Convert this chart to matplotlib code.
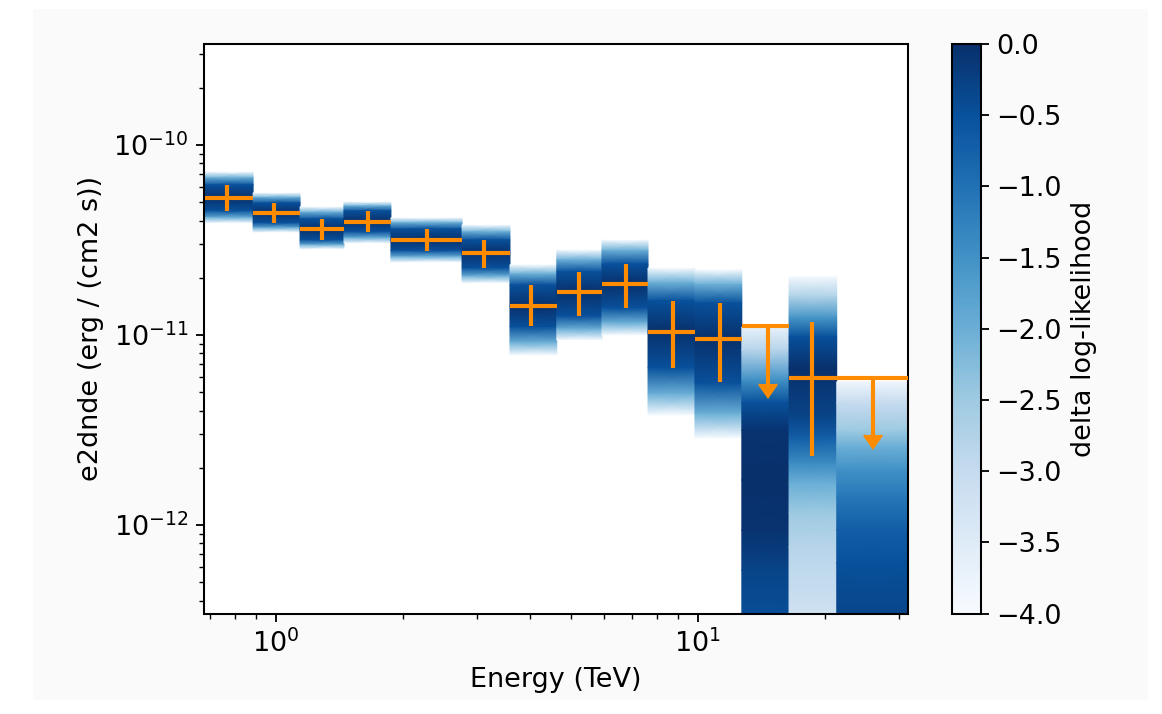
import numpy as np
import matplotlib
matplotlib.use("Agg")
import matplotlib.pyplot as plt
from matplotlib.patches import Rectangle

# energy bins (TeV)
e_min = [0.678, 0.884, 1.142, 1.451, 1.875, 2.764, 3.59, 4.634, 5.93, 7.625, 9.85, 12.72, 16.46, 21.35]
e_max = [0.884, 1.142, 1.451, 1.875, 2.764, 3.59, 4.634, 5.93, 7.625, 9.85, 12.72, 16.46, 21.35, 31.5]
e_ref = [0.765, 0.991, 1.285, 1.654, 2.28, 3.116, 4.027, 5.23, 6.75, 8.74, 11.29, 14.65, 18.66, 26.07]

# e2dnde, in units of 1e-11 erg / (cm2 s)
is_ul = [False] * 11 + [True, False, True]
e2dnde = [5.28, 4.39, 3.60, 3.95, 3.16, 2.71, 1.42, 1.68, 1.86, 1.041, 0.953, np.nan, 0.592, np.nan]
e2dnde_errn = [0.77, 0.50, 0.44, 0.45, 0.38, 0.46, 0.31, 0.42, 0.47, 0.37, 0.39, np.nan, 0.36, np.nan]
e2dnde_errp = [0.88, 0.56, 0.48, 0.55, 0.45, 0.45, 0.41, 0.47, 0.50, 0.47, 0.52, np.nan, 0.58, np.nan]
e2dnde_ul = [np.nan] * 11 + [1.11, np.nan, 0.592]

# likelihood profile per bin: e2dnde scan values (1e-11) and delta log-likelihood
profile_flux = [
    [7.21, 6.71, 6.16, 5.28, 4.51, 4.15, 3.89],
    [5.59, 5.29, 4.95, 4.39, 3.89, 3.66, 3.48],
    [4.72, 4.42, 4.08, 3.60, 3.16, 2.98, 2.84],
    [5.01, 4.77, 4.50, 3.95, 3.50, 3.24, 3.05],
    [4.13, 3.89, 3.61, 3.16, 2.78, 2.58, 2.42],
    [3.79, 3.49, 3.16, 2.71, 2.25, 2.04, 1.88],
    [2.34, 2.09, 1.83, 1.42, 1.106, 0.915, 0.785],
    [2.80, 2.48, 2.15, 1.68, 1.26, 1.075, 0.941],
    [3.16, 2.78, 2.36, 1.86, 1.39, 1.16, 1.00],
    [2.25, 1.88, 1.51, 1.041, 0.673, 0.491, 0.379],
    [2.20, 1.84, 1.47, 0.953, 0.559, 0.387, 0.287],
    [1.10, 0.834, 0.580, 0.439, 0.316, 0.1725, 0.0941, 0.058, 0.03],
    [2.02, 1.585, 1.244, 0.976, 0.670, 0.370, 0.290, 0.212, 0.166, 0.1156, 0.0766, 0.03],
    [0.566, 0.439, 0.316, 0.2574, 0.1948, 0.1404, 0.0941, 0.0631, 0.03],
]
profile_dll = [
    [-4.0, -2.0, -0.5, 0.0, -0.5, -2.0, -4.0],
    [-4.0, -2.0, -0.5, 0.0, -0.5, -2.0, -4.0],
    [-4.0, -2.0, -0.5, 0.0, -0.5, -2.0, -4.0],
    [-4.0, -2.0, -0.5, 0.0, -0.5, -2.0, -4.0],
    [-4.0, -2.0, -0.5, 0.0, -0.5, -2.0, -4.0],
    [-4.0, -2.0, -0.5, 0.0, -0.5, -2.0, -4.0],
    [-4.0, -2.0, -0.5, 0.0, -0.5, -2.0, -4.0],
    [-4.0, -2.0, -0.5, 0.0, -0.5, -2.0, -4.0],
    [-4.0, -2.0, -0.5, 0.0, -0.5, -2.0, -4.0],
    [-4.0, -2.0, -0.5, 0.0, -0.5, -2.0, -4.0],
    [-4.0, -2.0, -0.5, 0.0, -0.5, -2.0, -4.0],
    [-3.7, -2.8, -1.5, -0.5, -0.05, 0.0, -0.05, -0.3, -0.5],
    [-3.9, -2.7, -1.6, -0.5, 0.0, -0.3, -0.7, -1.4, -2.0, -2.5, -2.8, -3.25],
    [-3.8, -3.0, -2.5, -2.0, -1.5, -1.1, -0.7, -0.5, -0.3],
]

scale = 1e-11
W, H = 1162, 714

plt.rcParams['font.size'] = 11.8
plt.rcParams['axes.linewidth'] = 0.9
plt.rcParams['lines.markersize'] = 7.5

fig = plt.figure(figsize=(W / 165, H / 165), dpi=165)
fig.patches.append(Rectangle((33 / W, 1 - 700 / H), (1148 - 33) / W, (700 - 9) / H,
                             transform=fig.transFigure, facecolor='#fafafa',
                             edgecolor='none', zorder=-10))

ax = fig.add_axes([204.5 / W, 1 - 613.5 / H, 703.5 / W, 569.5 / H])
cax = fig.add_axes([952 / W, 1 - 613.5 / H, 28.5 / W, 569.5 / H])

for i in range(len(e_ref)):
    f = np.array(profile_flux[i]) * scale
    dll = np.array(profile_dll[i])
    X = np.array([[e_min[i], e_max[i]]] * len(f))
    Y = np.column_stack([f, f])
    C = np.column_stack([dll, dll])
    im = ax.pcolormesh(X, Y, C, shading='gouraud', cmap='Blues', vmin=-4, vmax=0)

e_min = np.array(e_min)
e_max = np.array(e_max)
e_ref = np.array(e_ref)
is_ul = np.array(is_ul)
pts = ~is_ul

ax.errorbar(
    e_ref[pts],
    np.array(e2dnde)[pts] * scale,
    xerr=[e_ref[pts] - e_min[pts], e_max[pts] - e_ref[pts]],
    yerr=[np.array(e2dnde_errn)[pts] * scale, np.array(e2dnde_errp)[pts] * scale],
    fmt='none',
    color='darkorange',
    elinewidth=1.8,
    zorder=3,
)
ul = np.array(e2dnde_ul)[is_ul] * scale
ax.errorbar(
    e_ref[is_ul],
    ul,
    xerr=[e_ref[is_ul] - e_min[is_ul], e_max[is_ul] - e_ref[is_ul]],
    yerr=0.5 * ul,
    uplims=True,
    fmt='none',
    color='darkorange',
    elinewidth=1.8,
    zorder=3,
)

ax.set_xscale('log')
ax.set_yscale('log')
ax.set_xticks([1, 10])
ax.set_yticks([1e-12, 1e-11, 1e-10])
ax.set_xlim(0.678, 31.5)
ax.set_ylim(3.42e-13, 3.40e-10)
ax.set_xlabel('Energy (TeV)')
ax.set_ylabel('e2dnde (erg / (cm2 s))')

cbar = fig.colorbar(im, cax=cax, ticks=np.arange(-4.0, 0.01, 0.5))
cbar.set_label('delta log-likelihood')

fig.savefig('out.png', dpi=165, facecolor='white')
